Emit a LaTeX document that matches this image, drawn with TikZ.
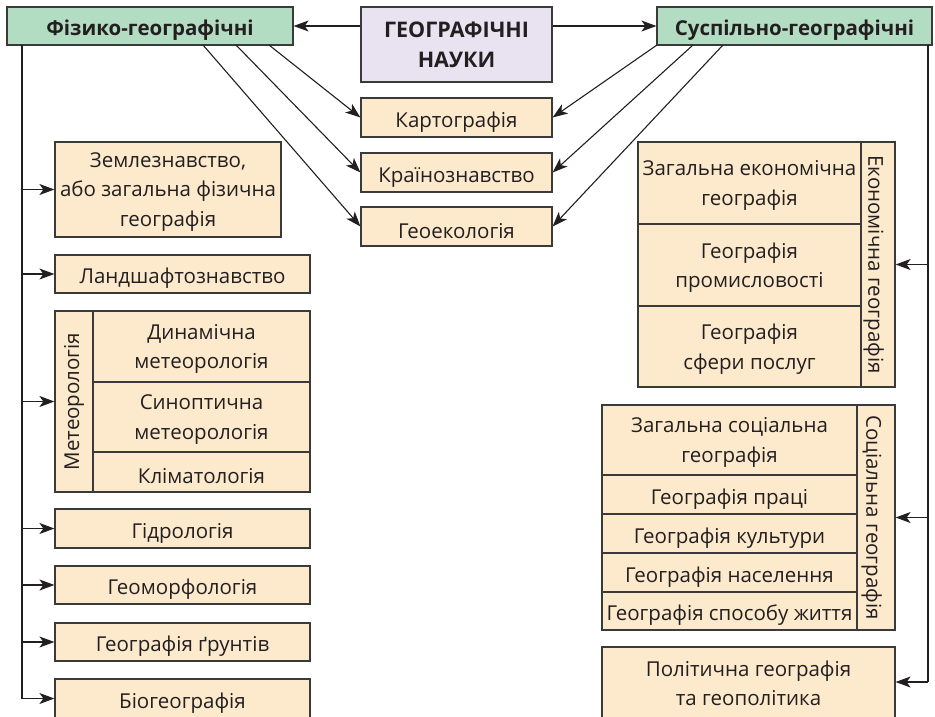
\documentclass[tikz,border=0pt]{standalone}
\usepackage{fontspec}
\setmainfont{Open Sans}
\usetikzlibrary{arrows.meta,calc}
\definecolor{boxline}{HTML}{3A3A3A}
\definecolor{beige}{HTML}{FDEACD}
\definecolor{mint}{HTML}{B3DDC3}
\definecolor{lilac}{HTML}{E9E3F1}
\definecolor{ink}{HTML}{231F20}
\begin{document}
\begin{tikzpicture}[x=1pt,y=-1pt,
  wh/.style 2 args={minimum width=#1pt,minimum height=#2pt},
  plain/.style={draw=boxline,line width=1.2pt,fill=beige,inner sep=0pt,align=center,
    text=ink,font=\fontsize{20.5}{29.5}\selectfont},
  cell/.style={plain,execute at begin node={\rule{0pt}{24pt}}},
  ml/.style={plain,text depth=-3pt},
  head/.style={cell,fill=mint,font=\fontsize{20.5}{29.5}\selectfont\bfseries},
  tip/.tip={Stealth[length=15pt,width=11pt,inset=4pt]},
  conn/.style={line width=1.1pt,draw=ink,arrows={-tip}},
  trunk/.style={line width=1.1pt,draw=ink}]
\useasboundingbox (0,0) rectangle (935,717);
% top row
\node[head,wh={286}{38}] (phys) at (150,26) {Фізико-географічні};
\node[ml,fill=lilac,wh={191}{75},font=\fontsize{21.5}{30}\selectfont\bfseries] (geo) at (456.5,44.5) {ГЕОГРАФІЧНІ\\НАУКИ};
\node[head,wh={275}{38}] (soc) at (794.5,26) {Суспільно-географічні};
% middle
\node[cell,wh={191}{39}] (kart) at (456.5,117.5) {Картографія};
\node[cell,wh={191}{39}] (krain) at (456.5,172.5) {Країнознавство};
\node[cell,wh={191}{39}] (geoek) at (456.5,226.5) {Геоекологія};
% left column
\node[ml,wh={226}{95}] (zeml) at (168,189.5) {Землезнавство,\\або загальна фізична\\географія};
\node[cell,wh={255}{38}] (land) at (182.5,274) {Ландшафтознавство};
\node[plain,wh={181}{38},rotate=90] (met) at (74,401.5) {Метеорологія};
\node[ml,wh={217}{71}] (dyn) at (201.5,346.5) {Динамічна\\метеорологія};
\node[ml,wh={217}{70}] (syn) at (201.5,417) {Синоптична\\метеорологія};
\node[cell,wh={217}{40}] (klim) at (201.5,472) {Кліматологія};
\node[cell,wh={255}{39}] (hydro) at (182.5,528.5) {Гідрологія};
\node[cell,wh={255}{38}] (geom) at (182.5,585) {Геоморфологія};
\node[cell,wh={255}{38}] (grunt) at (182.5,642) {Географія ґрунтів};
\node[cell,wh={255}{39}] (bio) at (182.5,698.5) {Біогеографія};
% right column: economic
\node[ml,wh={223}{82}] (ec1) at (749.5,183) {Загальна економічна\\географія};
\node[ml,wh={223}{82}] (ec2) at (749.5,265) {Географія\\промисловості};
\node[ml,wh={223}{81}] (ec3) at (749.5,346.5) {Географія\\сфери послуг};
\node[cell,wh={245}{34},rotate=-90] (econ) at (878,264.5) {Економічна географія};
% social
\node[ml,wh={255}{70}] (so1) at (729.5,440) {Загальна соціальна\\географія};
\node[cell,wh={255}{39}] (so2) at (729.5,494.5) {Географія праці};
\node[cell,wh={255}{39}] (so3) at (729.5,533.5) {Географія культури};
\node[cell,wh={255}{39}] (so4) at (729.5,572.5) {Географія населення};
\node[cell,wh={255}{38}] (so5) at (729.5,611) {Географія способу життя};
\node[cell,wh={225}{38},rotate=-90] (social) at (876,517.5) {Соціальна географія};
\node[plain,wh={293}{73}] (polit) at (748.5,683.5) {Політична географія\\та геополітика};
% connectors top
\draw[conn] (geo.west|-phys.east) -- (phys.east);
\draw[conn] (geo.east|-soc.west) -- (soc.west);
\coordinate (p1) at (269,45);
\coordinate (p2) at (236,45);
\coordinate (p3) at (203,45);
\coordinate (s1) at (657,45);
\coordinate (s2) at (693,45);
\coordinate (s3) at (723,45);
\draw[conn] (p1) -- (kart.west);
\draw[conn] (p2) -- (krain.west);
\draw[conn] (p3) -- (geoek.west);
\draw[conn] (s1) -- (kart.east);
\draw[conn] (s2) -- (krain.east);
\draw[conn] (s3) -- (geoek.east);
% left trunk
\coordinate (lt) at (22,45);
\coordinate (lb) at (22,698.5);
\draw[trunk] (lt) -- (lb);
\foreach \n in {zeml,land,hydro,geom,grunt}{
  \draw[conn] (lt|-\n.center) -- (\n.west);}
\draw[conn] (lb) -- (bio.west);
\draw[conn] (lt|-met.center) -- (met.north);
% right trunk
\coordinate (rt) at (928,45);
\coordinate (rb) at (928,682);
\draw[trunk] (rt) -- (rb);
\draw[conn] (rt|-econ.center) -- (econ.north);
\draw[conn] (rt|-social.center) -- (social.north);
\draw[conn] (rb) -- (polit.east|-rb);
\end{tikzpicture}
\end{document}
